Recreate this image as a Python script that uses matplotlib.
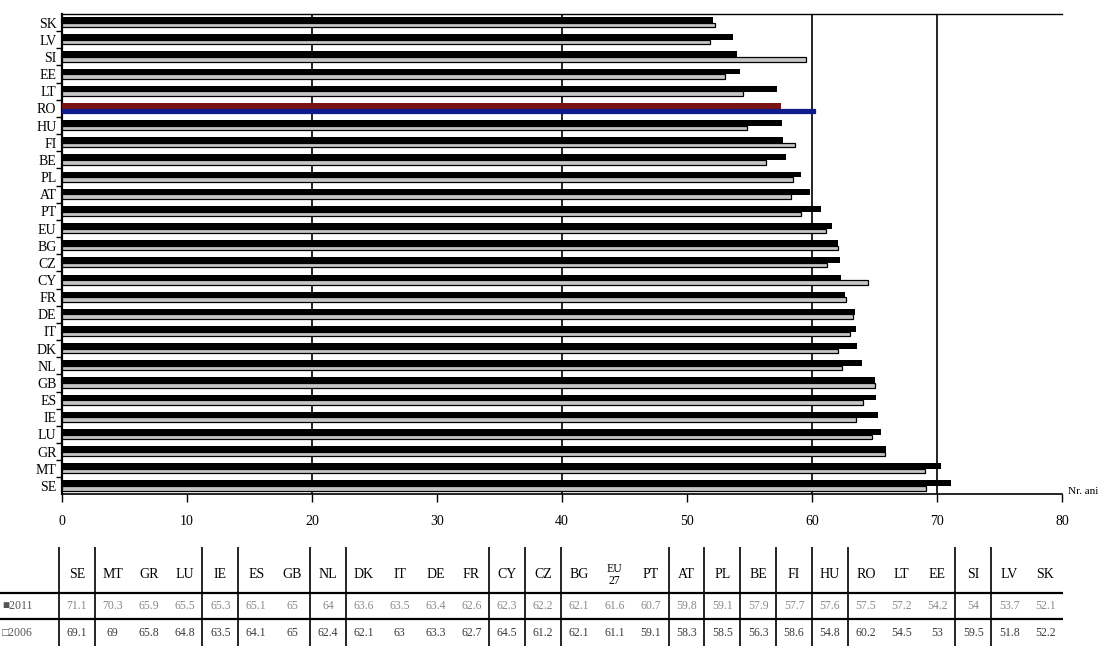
import numpy as np
import matplotlib.pyplot as plt

# date (ordine: de jos in sus pe grafic = ordinea din tabel)
countries = ["SE", "MT", "GR", "LU", "IE", "ES", "GB", "NL", "DK", "IT", "DE", "FR", "CY", "CZ",
             "BG", "EU27", "PT", "AT", "PL", "BE", "FI", "HU", "RO", "LT", "EE", "SI", "LV", "SK"]
axis_labels = [c if c != "EU27" else "EU" for c in countries]
header_labels = [c if c != "EU27" else "EU\n27" for c in countries]
val_2011 = [71.1, 70.3, 65.9, 65.5, 65.3, 65.1, 65.0, 64.0, 63.6, 63.5, 63.4, 62.6, 62.3, 62.2,
            62.1, 61.6, 60.7, 59.8, 59.1, 57.9, 57.7, 57.6, 57.5, 57.2, 54.2, 54.0, 53.7, 52.1]
val_2006 = [69.1, 69.0, 65.8, 64.8, 63.5, 64.1, 65.0, 62.4, 62.1, 63.0, 63.3, 62.7, 64.5, 61.2,
            62.1, 61.1, 59.1, 58.3, 58.5, 56.3, 58.6, 54.8, 60.2, 54.5, 53.0, 59.5, 51.8, 52.2]
highlight = "RO"
x_ticks = [0, 10, 20, 30, 40, 50, 60, 70, 80]
grid_x = [20, 40, 60, 70]
# separatoarele verticale din tabel (indice de coloana)
group_breaks = [0, 1, 4, 5, 7, 8, 12, 13, 14, 17, 18, 19, 20, 21, 22, 25, 26]

W, H = 1113, 646
plt.rcParams['font.family'] = ['Liberation Serif', 'DejaVu Sans']
fig = plt.figure(figsize=(W / 100, H / 100), dpi=100)

# zona graficului in pixeli
left, right, top, bottom = 62, 1062, 14, 494
ax = fig.add_axes([left / W, 1 - bottom / H, (right - left) / W, (bottom - top) / H])

y = np.arange(len(countries))
c11 = ['#7a1414' if c == highlight else 'black' for c in countries]
c06 = ['#0d1b8c' if c == highlight else '#c6c6c6' for c in countries]
e06 = ['#0d1b8c' if c == highlight else 'black' for c in countries]

ax.barh(y + 0.15, val_2011, height=0.34, color=c11, zorder=3)
ax.barh(y - 0.14, val_2006, height=0.26, color=c06, edgecolor=e06, linewidth=0.9, zorder=3)

for gx in grid_x:
    ax.axvline(gx, color='black', linewidth=1.2, zorder=1)

ax.set_xlim(0, 80)
ax.set_ylim(-0.47, 27.5)
ax.set_xticks(x_ticks)
ax.set_xticklabels([str(t) for t in x_ticks], fontsize=10)
ax.tick_params(axis='x', direction='out', length=6, width=1, pad=9)
ax.set_yticks(y)
ax.set_yticklabels(axis_labels, fontsize=10)
ax.set_yticks(y[:-1] + 0.5, minor=True)
ax.tick_params(axis='y', which='major', length=0, pad=4)
ax.tick_params(axis='y', which='minor', direction='out', length=4, width=1)

ax.spines['right'].set_visible(False)
ax.spines['left'].set_linewidth(1.6)
ax.spines['top'].set_linewidth(1.0)
ax.spines['bottom'].set_linewidth(1.2)

fig.text(1068 / W, 1 - 492 / H, "Nr. ani", fontsize=8, va='center', ha='left')

# tabelul de sub grafic, desenat in coordonate de pixeli
tab = fig.add_axes([0, 0, 1, 1])
tab.set_xlim(0, W)
tab.set_ylim(H, 0)
tab.axis('off')

t_left, t_right = 59, 1063
col_w = (t_right - t_left) / len(countries)
y_head, y_11, y_06 = 575, 606, 633

for j, name in enumerate(header_labels):
    cx = t_left + col_w * (j + 0.5)
    tab.text(cx, y_head, name, fontsize=10 if "\n" not in name else 8.5,
             ha='center', va='center', linespacing=1.0)
    tab.text(cx, y_11, f"{val_2011[j]:g}", fontsize=8.5, ha='center', va='center', color='#8a8a8a')
    tab.text(cx, y_06, f"{val_2006[j]:g}", fontsize=8.5, ha='center', va='center', color='#3a3a3a')

tab.text(2, y_11, "■2011", fontsize=8.5, ha='left', va='center', color='#555555')
tab.text(2, y_06, "□2006", fontsize=8.5, ha='left', va='center', color='#555555')

tab.hlines([593, 619], 0, t_right, color='black', linewidth=1.6)
tab.vlines([t_left + col_w * k for k in group_breaks], 547, H, color='black', linewidth=1.2)

plt.savefig('out.png', dpi=100)
plt.close()
